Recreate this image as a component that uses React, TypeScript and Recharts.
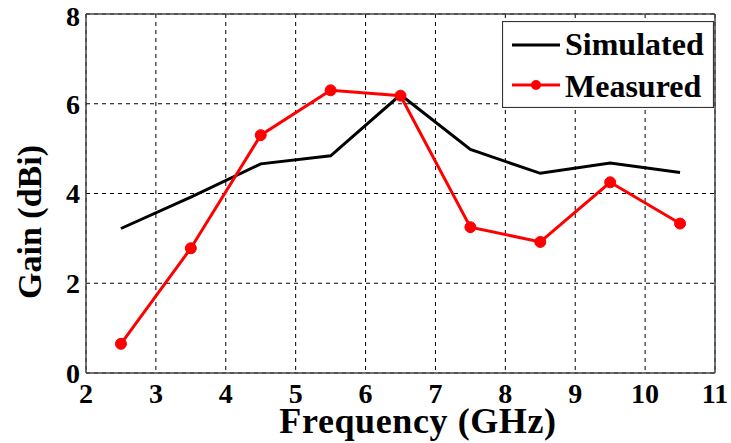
import { LineChart, Line, XAxis, YAxis, CartesianGrid, Legend, ReferenceLine, Label } from 'recharts';

const frequencies = [2.5, 3.5, 4.5, 5.5, 6.5, 7.5, 8.5, 9.5, 10.5];
const simulatedGain = [3.22, 3.92, 4.66, 4.84, 6.2, 4.98, 4.45, 4.68, 4.47];
const measuredGain = [0.65, 2.78, 5.3, 6.3, 6.18, 3.25, 2.92, 4.25, 3.33];
const xTicks = [2, 3, 4, 5, 6, 7, 8, 9, 10, 11];
const yTicks = [0, 2, 4, 6, 8];

const data = frequencies.map((f, i) => ({
  freq: f,
  simulated: simulatedGain[i],
  measured: measuredGain[i],
}));

const FONT = "'Times New Roman', Times, 'Liberation Serif', 'DejaVu Serif', serif";

function LegendBox() {
  return (
    <svg width={212} height={87}>
      <rect x={0.5} y={0.5} width={211} height={86} fill="#fff" stroke="#333" strokeWidth={1.2} />
      <line x1={10} y1={24} x2={58} y2={24} stroke="#000" strokeWidth={3} />
      <text x={63} y={34} style={{ fontFamily: FONT, fontWeight: 'bold', fontSize: 32 }} fill="#000">
        Simulated
      </text>
      <line x1={10} y1={64} x2={58} y2={64} stroke="#ff0000" strokeWidth={3} />
      <circle cx={34} cy={64} r={5} fill="#ff0000" />
      <text x={63} y={76} style={{ fontFamily: FONT, fontWeight: 'bold', fontSize: 32 }} fill="#000">
        Measured
      </text>
    </svg>
  );
}

const labelStyle = { fontFamily: FONT, fontWeight: 'bold' as const };

export default function App() {
  return (
    <div style={{ position: 'absolute', left: 0, top: 0, background: '#fff', fontFamily: FONT }}>
      <LineChart width={731} height={443} data={data} margin={{ top: 14, right: 16, left: 0, bottom: 0 }} style={{ fontFamily: FONT }}>
        <CartesianGrid stroke="#000" strokeDasharray="4 4" strokeWidth={1} />
        <XAxis
          dataKey="freq"
          type="number"
          domain={[2, 11]}
          ticks={xTicks}
          height={70}
          tickLine={false}
          tickSize={0}
          tickMargin={10}
          stroke="#444"
          strokeWidth={1.5}
          tick={{ fill: '#000', style: { fontFamily: FONT, fontWeight: 'bold', fontSize: 28 } }}
        >
          <Label
            content={() => (
              <text x={418} y={433} textAnchor="middle" fill="#000" style={{ ...labelStyle, fontSize: 36, letterSpacing: 0.6 }}>
                Frequency (GHz)
              </text>
            )}
          />
        </XAxis>
        <YAxis
          type="number"
          domain={[0, 8]}
          ticks={yTicks}
          width={86}
          tickLine={false}
          tickSize={0}
          tickMargin={6}
          stroke="#444"
          strokeWidth={1.5}
          tick={{ fill: '#000', style: { fontFamily: FONT, fontWeight: 'bold', fontSize: 28 } }}
        >
          <Label
            content={() => (
              <text
                x={0}
                y={0}
                transform="translate(41 222) rotate(-90)"
                textAnchor="middle"
                fill="#000"
                style={{ ...labelStyle, fontSize: 34 }}
              >
                Gain (dBi)
              </text>
            )}
          />
        </YAxis>
        <ReferenceLine y={8} stroke="#444" strokeWidth={1.5} />
        <ReferenceLine x={11} stroke="#444" strokeWidth={1.5} />
        <Line
          dataKey="simulated"
          stroke="#000"
          strokeWidth={3}
          dot={false}
          isAnimationActive={false}
        />
        <Line
          dataKey="measured"
          stroke="#ff0000"
          strokeWidth={3}
          dot={{ r: 5.5, fill: '#ff0000', stroke: '#ff0000', strokeWidth: 1 }}
          isAnimationActive={false}
        />
        <Legend
          layout="vertical"
          align="center"
          verticalAlign="middle"
          wrapperStyle={{ left: 502, top: 21, width: 212, height: 87 }}
          content={() => <LegendBox />}
        />
      </LineChart>
    </div>
  );
}
